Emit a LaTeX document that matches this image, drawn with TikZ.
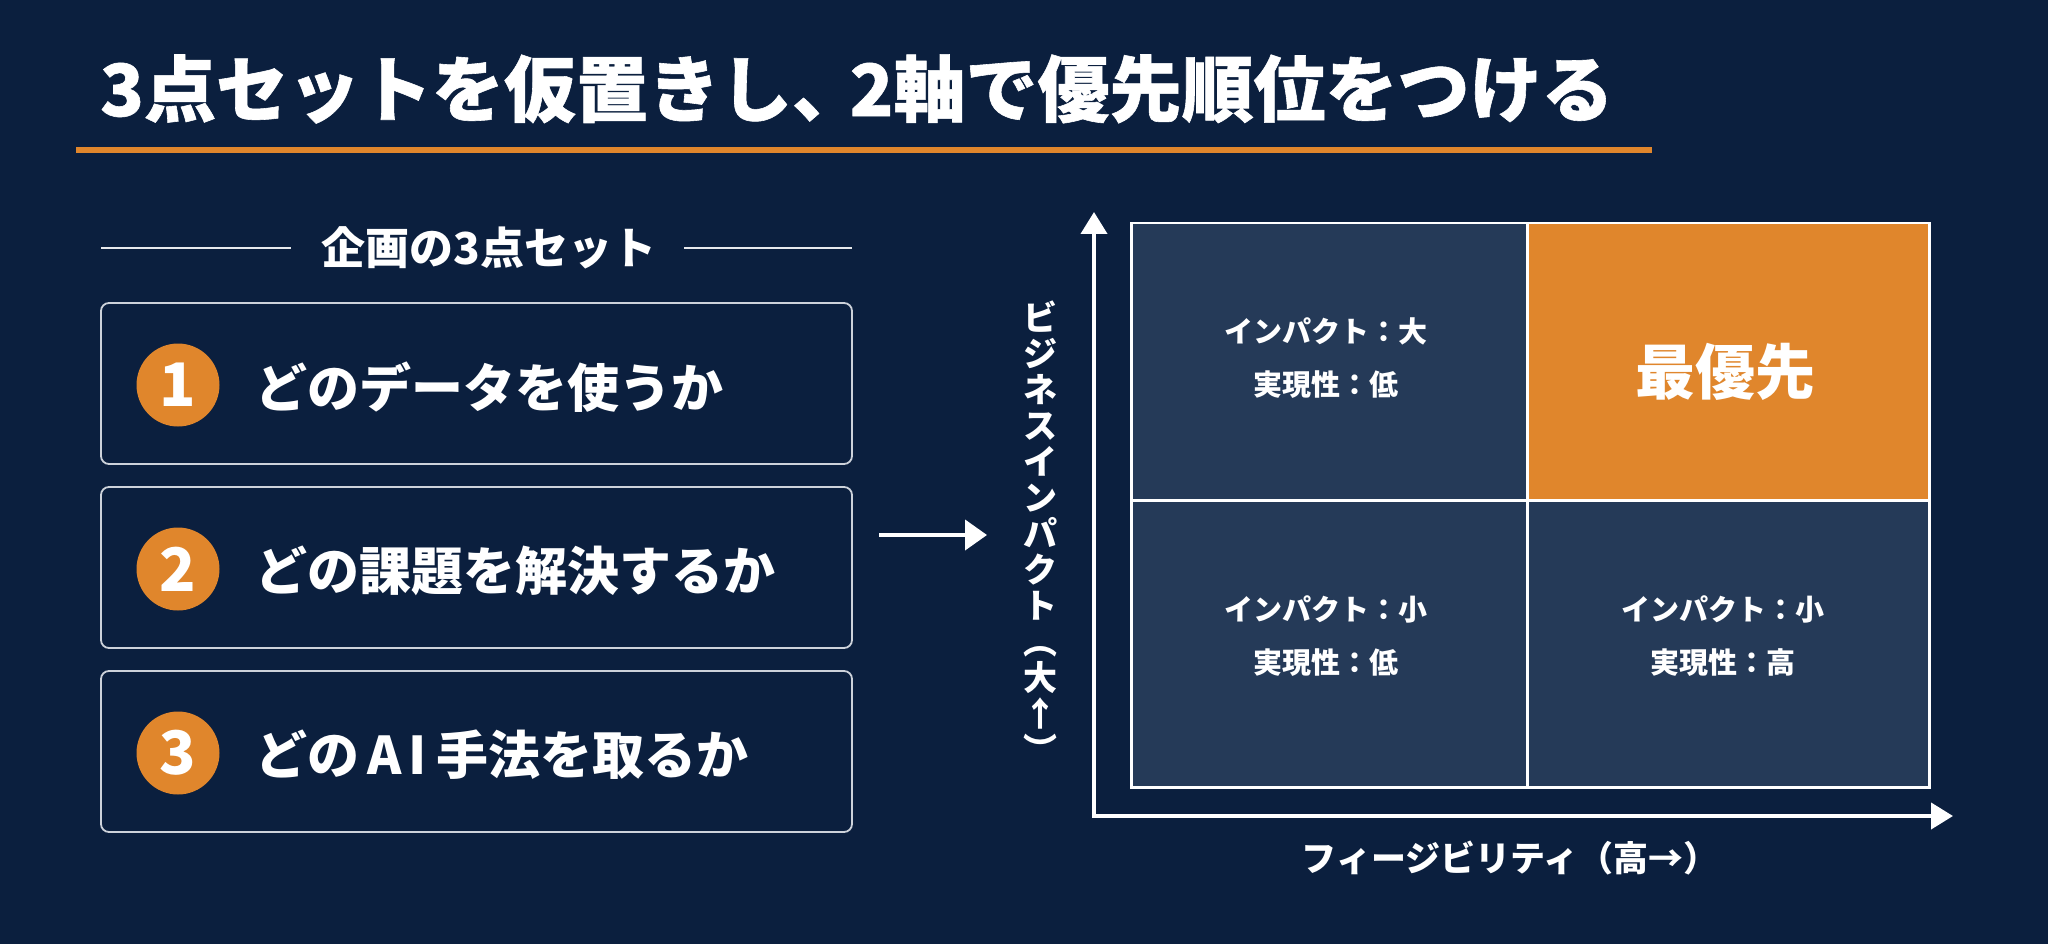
\documentclass[tikz,border=0pt]{standalone}
\usepackage{fontspec}
\newfontfamily\jp{Noto Sans CJK JP}
\newfontfamily\jpheavy{Noto Sans CJK JP}[BoldFeatures={FakeBold=0.8}]
\usetikzlibrary{arrows.meta}
\definecolor{bg}{HTML}{0B1F3E}
\definecolor{quad}{HTML}{253A58}
\definecolor{acc}{HTML}{E0862C}
\definecolor{rim}{HTML}{CDD2DA}
\tikzset{
  txt/.style={text=white, inner sep=0pt},
  itembox/.style={draw=rim, line width=1.8pt, rounded corners=8pt, minimum width=751pt, minimum height=161pt, inner sep=0pt},
  numdisc/.style={circle, fill=acc, minimum size=83pt, inner sep=0pt, text=white, font=\jp\bfseries\fontsize{60}{60}\selectfont},
  itemtxt/.style={txt, anchor=west, font=\jp\bfseries\fontsize{52}{60}\selectfont},
  cellbox/.style={draw=white, line width=2.5pt, fill=quad, inner sep=0pt, anchor=north west},
  celltxt/.style={txt, align=center, font=\jp\bfseries\fontsize{29}{53}\selectfont},
  axisline/.style={draw=white, line width=4pt, line join=miter},
  rule/.style={draw=white!90!bg, line width=2pt}
}
\begin{document}
\begin{tikzpicture}[x=1pt,y=-1pt]
\useasboundingbox[fill=bg] (0,0) rectangle (2048,944);

% title
\node[txt, anchor=west, font=\jpheavy\bfseries\fontsize{72}{80}\selectfont] (title) at (100,89) {3点セットを仮置きし、\hspace{-0.2em}2軸で優先順位をつける};
\coordinate (ulA) at (76,150);
\coordinate (ulB) at (1652,150);
\draw[acc, line width=6pt] (ulA) -- (ulB);

% header
\node[txt, font=\jp\bfseries\fontsize{44}{50}\selectfont] (hdr) at (489,248) {企画の3点セット};
\coordinate (hl1) at (101,248);
\coordinate (hl2) at (291,248);
\coordinate (hr1) at (684,248);
\coordinate (hr2) at (852,248);
\draw[rule] (hl1) -- (hl2);
\draw[rule] (hr1) -- (hr2);

% items
\node[itembox] (b1) at (476.5,383.5) {};
\node[itembox] (b2) at (476.5,567.5) {};
\node[itembox] (b3) at (476.5,751.5) {};
\node[numdisc] (n1) at (178,385) {1};
\node[numdisc] (n2) at (178,569) {2};
\node[numdisc] (n3) at (178,753) {3};
\node[itemtxt] (t1) at (255,387) {どのデータを使うか};
\node[itemtxt] (t2) at (255,571) {どの課題を解決するか};
\node[itemtxt] (t3) at (255,755) {どの\hspace{8pt}A\hspace{7pt}I\hspace{10pt}手法を取るか};

% middle arrow
\coordinate (as) at (879,535);
\coordinate (ae) at (987,535);
\draw[axisline, -{Triangle[length=22pt,width=30pt]}] (as) -- (ae);

% matrix
\node[cellbox, minimum width=396pt, minimum height=277pt] (q11) at (1130,222) {};
\node[cellbox, minimum width=402pt, minimum height=277pt, fill=acc] (q12) at (1526,222) {};
\node[cellbox, minimum width=396pt, minimum height=287pt] (q21) at (1130,499) {};
\node[cellbox, minimum width=402pt, minimum height=287pt] (q22) at (1526,499) {};

\node[celltxt] (l11) at (1326,358) {インパクト：大\\実現性：低};
\node[celltxt] (l21) at (1326,636) {インパクト：小\\実現性：低};
\node[celltxt] (l22) at (1723,636) {インパクト：小\\実現性：高};
\node[txt, font=\jp\bfseries\fontsize{60}{60}\selectfont] (l12) at (1725,372) {最優先};

% axes
\coordinate (ytip) at (1094,212);
\coordinate (orig) at (1094,816);
\coordinate (xtip) at (1953,816);
\draw[axisline, {Triangle[length=22pt,width=26pt]}-{Triangle[length=22pt,width=26pt]}] (ytip) -- (orig) -- (xtip);

\node[txt, align=center, font=\jp\bfseries\fontsize{34}{36}\selectfont] (ylab) at (1040,532)
  {ビ\\ジ\\ネ\\ス\\イ\\ン\\パ\\ク\\ト\\︵\\大\\↑\\︶};
\node[txt, font=\jp\bfseries\fontsize{35}{40}\selectfont] (xlab) at (1510,858) {フィージビリティ（高→）};
\end{tikzpicture}
\end{document}
